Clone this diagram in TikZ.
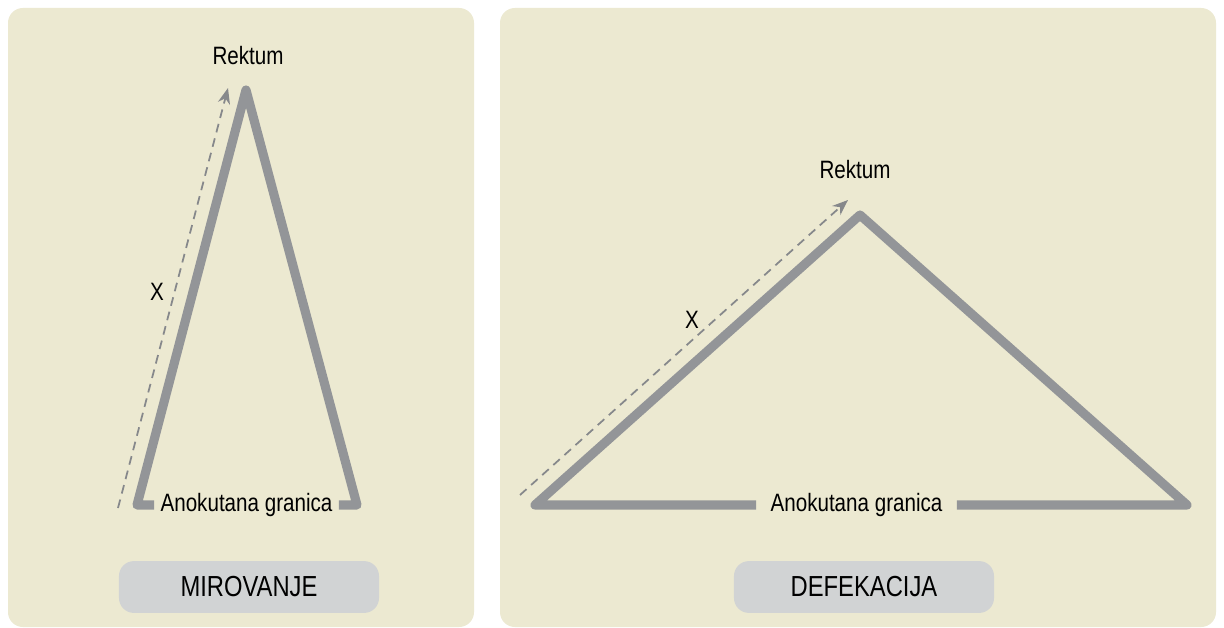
\documentclass[tikz,border=0pt]{standalone}
\usepackage{fontspec}
\setmainfont{Liberation Sans}[FakeStretch=0.82]
\usetikzlibrary{positioning,arrows.meta}
\definecolor{panelBg}{HTML}{ECE9D1}
\definecolor{legGrey}{HTML}{939598}
\definecolor{axisGrey}{HTML}{86888B}
\definecolor{pillGrey}{HTML}{D1D3D4}

\begin{document}
\begin{tikzpicture}[
    x=0.02cm, y=-0.02cm,
    panel/.style={fill=panelBg, rounded corners=8.5pt},
    leg/.style={draw=legGrey, line width=5.2pt, line join=round},
    axis/.style={draw=axisGrey, line width=1pt, dash pattern=on 5pt off 3.5pt, -{Stealth[length=9pt,width=7pt]}},
    tag/.style={font=\fontsize{14.3}{16}\selectfont, inner sep=2pt},
    pill/.style={fill=pillGrey, rounded corners=8.5pt, minimum width=148pt, minimum height=29.5pt, font=\fontsize{16.5}{19}\selectfont}
  ]
    \useasboundingbox[fill=white] (0,0) rectangle (1224,628);

    % background panels
    \fill[panel] (8,8) rectangle (474,627);
    \fill[panel] (500,8) rectangle (1216,627);

    % rest
    \coordinate (rApex) at (246,90);
    \coordinate (rLeft) at (137,505);
    \coordinate (rRight) at (357,505);
    \node[tag, inner xsep=3.5pt] (rBase) at (246.5,505) {Anokutana granica};
    \node[tag] (rTop) at (248,56) {Rektum};
    \draw[leg] (rBase.west) -- (rLeft) -- (rApex) -- (rRight) -- (rBase.east);
    \coordinate (rStart) at (118,508);
    \coordinate (rEnd) at (228,88);
    \draw[axis] (rStart) -- (rEnd);
    \node[tag] (rX) at (157,292) {X};
    \node[pill] (rState) at (249,587) {MIROVANJE};

    % defecation
    \coordinate (dApex) at (860,215);
    \coordinate (dLeft) at (535,505);
    \coordinate (dRight) at (1187,505);
    \node[tag, inner xsep=8pt] (dBase) at (856.5,505) {Anokutana granica};
    \node[tag] (dTop) at (855,170) {Rektum};
    \draw[leg] (dBase.west) -- (dLeft) -- (dApex) -- (dRight) -- (dBase.east);
    \coordinate (dStart) at (520,495);
    \coordinate (dEnd) at (848,200);
    \draw[axis] (dStart) -- (dEnd);
    \node[tag] (dX) at (692,320) {X};
    \node[pill] (dState) at (864,587) {DEFEKACIJA};
  \end{tikzpicture}
\end{document}
